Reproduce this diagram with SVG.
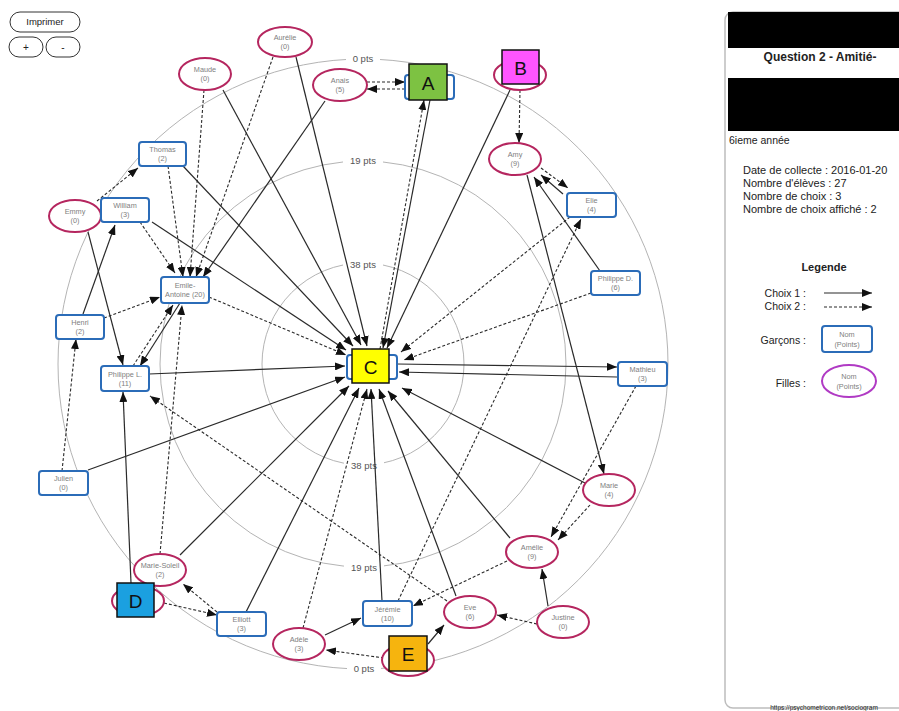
<svg xmlns="http://www.w3.org/2000/svg" width="899" height="711" viewBox="0 0 899 711">
<style>
.ring{fill:none;stroke:#b4b4b4;stroke-width:1}
.rl{font-family:"Liberation Sans",Arial,sans-serif;font-size:9.5px;fill:#555;text-anchor:middle;dominant-baseline:central}
.b{fill:#fff;stroke:#2b6cb8;stroke-width:2}
.g{fill:#fff;stroke:#b5265f;stroke-width:2}
.t{font-family:"Liberation Sans",Arial,sans-serif;font-size:7.3px;fill:#808080;text-anchor:middle;dominant-baseline:central}
.s{fill:none;stroke:#2a2a2a;stroke-width:1.2;marker-end:url(#ah)}
.d{fill:none;stroke:#2a2a2a;stroke-width:1.1;stroke-dasharray:3 2;marker-end:url(#ah)}
.sq{stroke:#111;stroke-width:1.5}
.L{font-family:"Liberation Sans",Arial,sans-serif;font-size:19px;fill:#111;text-anchor:middle;dominant-baseline:central}
.p{font-family:"Liberation Sans",Arial,sans-serif;fill:#222}
.btn{fill:#fff;stroke:#333;stroke-width:1}
</style>
<defs>
<marker id="ah" markerUnits="userSpaceOnUse" markerWidth="10" markerHeight="8" refX="10" refY="4" orient="auto">
<path d="M0,0 L10,4 L0,8 z" fill="#111"/>
</marker>
</defs>
<rect width="899" height="711" fill="#fff"/>

<g id="buttons">
<rect class="btn" x="10" y="12" width="70" height="20" rx="10"/>
<text class="p" x="45" y="25" font-size="9.5" text-anchor="middle">Imprimer</text>
<rect class="btn" x="9" y="37" width="34" height="20" rx="10"/>
<text class="p" x="26" y="50.5" font-size="10" text-anchor="middle">+</text>
<rect class="btn" x="46" y="37" width="34" height="20" rx="10"/>
<text class="p" x="63" y="50.5" font-size="10" text-anchor="middle">-</text>
</g>

<g id="rings">
<circle class="ring" cx="363" cy="364" r="305"/>
<circle class="ring" cx="363" cy="364" r="203"/>
<circle class="ring" cx="363" cy="364" r="101"/>
<rect x="346" y="51" width="34" height="13" fill="#fff"/>
<text class="rl" x="363" y="58">0 pts</text>
<rect x="343" y="154" width="40" height="13" fill="#fff"/>
<text class="rl" x="363" y="160">19 pts</text>
<rect x="343" y="258" width="40" height="13" fill="#fff"/>
<text class="rl" x="363" y="264">38 pts</text>
<rect x="344" y="459" width="40" height="13" fill="#fff"/>
<text class="rl" x="364" y="465">38 pts</text>
<rect x="344" y="561" width="40" height="13" fill="#fff"/>
<text class="rl" x="364" y="567">19 pts</text>
<rect x="347" y="662" width="34" height="13" fill="#fff"/>
<text class="rl" x="364" y="668">0 pts</text>
</g>

<g id="connectors">
<line class="s" x1="296" y1="57" x2="367" y2="346"/>
<line class="s" x1="223" y1="90" x2="361" y2="345"/>
<line class="s" x1="183" y1="166" x2="353" y2="346"/>
<line class="s" x1="152" y1="222" x2="346" y2="350"/>
<line class="s" x1="88" y1="232" x2="123" y2="365"/>
<line class="s" x1="83" y1="314" x2="115" y2="225"/>
<line class="s" x1="88" y1="470" x2="345" y2="377"/>
<line class="s" x1="149" y1="374" x2="345" y2="366"/>
<line class="s" x1="180" y1="303" x2="140" y2="366"/>
<line class="s" x1="180" y1="555" x2="349" y2="386"/>
<line class="s" x1="131" y1="583" x2="123" y2="392"/>
<line class="s" x1="246" y1="612" x2="359" y2="388"/>
<line class="s" x1="325" y1="635" x2="361" y2="618"/>
<line class="s" x1="428" y1="644" x2="444" y2="625"/>
<line class="s" x1="382" y1="601" x2="371" y2="389"/>
<line class="s" x1="456" y1="596" x2="379" y2="389"/>
<line class="s" x1="548" y1="606" x2="542" y2="569"/>
<line class="s" x1="510" y1="538" x2="388" y2="391"/>
<line class="s" x1="585" y1="483" x2="402" y2="388"/>
<line class="s" x1="617" y1="377" x2="399" y2="372"/>
<line class="s" x1="397" y1="364" x2="617" y2="367"/>
<line class="s" x1="600" y1="271" x2="534" y2="177"/>
<line class="s" x1="563" y1="194" x2="541" y2="175"/>
<line class="s" x1="527" y1="175" x2="604" y2="474"/>
<line class="s" x1="510" y1="90" x2="387" y2="348"/>
<line class="s" x1="430" y1="100" x2="383" y2="348"/>
<line class="s" x1="325" y1="101" x2="203" y2="277"/>

<line class="d" x1="273" y1="57" x2="196" y2="277"/>
<line class="d" x1="204" y1="90" x2="190" y2="277"/>
<line class="d" x1="168" y1="166" x2="183" y2="277"/>
<line class="d" x1="140" y1="222" x2="175" y2="273"/>
<line class="d" x1="97" y1="201" x2="138" y2="168"/>
<line class="d" x1="104" y1="318" x2="160" y2="297"/>
<line class="d" x1="62" y1="471" x2="76" y2="339"/>
<line class="d" x1="133" y1="366" x2="173" y2="305"/>
<line class="d" x1="209" y1="297" x2="346" y2="355"/>
<line class="d" x1="160" y1="554" x2="182" y2="305"/>
<line class="d" x1="164" y1="603" x2="217" y2="615"/>
<line class="d" x1="217" y1="612" x2="183" y2="584"/>
<line class="d" x1="303" y1="628" x2="367" y2="389"/>
<line class="d" x1="384" y1="658" x2="326" y2="650"/>
<line class="d" x1="398" y1="601" x2="581" y2="219"/>
<line class="d" x1="447" y1="601" x2="150" y2="396"/>
<line class="d" x1="537" y1="624" x2="497" y2="615"/>
<line class="d" x1="507" y1="561" x2="413" y2="606"/>
<line class="d" x1="590" y1="505" x2="558" y2="540"/>
<line class="d" x1="636" y1="386" x2="551" y2="537"/>
<line class="d" x1="591" y1="293" x2="404" y2="360"/>
<line class="d" x1="570" y1="217" x2="401" y2="352"/>
<line class="d" x1="541" y1="168" x2="568" y2="188"/>
<line class="d" x1="520" y1="90" x2="519" y2="143"/>
<line class="d" x1="405" y1="89" x2="367" y2="89"/>
<line class="d" x1="367" y1="82" x2="405" y2="82"/>
<line class="d" x1="380" y1="349" x2="424" y2="100"/>
</g>

<g id="n-aurelie"><ellipse class="g" cx="285" cy="42" rx="27" ry="15"/><text class="t" x="285" y="37.5">Aurélie</text><text class="t" x="285" y="46.5">(0)</text></g>
<g id="n-maude"><ellipse class="g" cx="205" cy="74" rx="26" ry="16"/><text class="t" x="205" y="69.5">Maude</text><text class="t" x="205" y="78.5">(0)</text></g>
<g id="n-anais"><ellipse class="g" cx="340" cy="85" rx="27" ry="16"/><text class="t" x="340" y="80.5">Anais</text><text class="t" x="340" y="89.5">(5)</text></g>
<g id="n-a"><rect class="b" x="405" y="75" width="49" height="24" rx="3"/><rect class="sq" x="409" y="64" width="38" height="36" fill="#7dc242"/><text class="L" x="428" y="83">A</text></g>
<g id="n-b"><ellipse class="g" cx="520" cy="75" rx="26" ry="15"/><rect class="sq" x="502" y="50" width="37" height="34" fill="#ff55ff"/><text class="L" x="520.5" y="68">B</text></g>
<g id="n-amy"><ellipse class="g" cx="515" cy="159" rx="26" ry="16"/><text class="t" x="515" y="154.5">Amy</text><text class="t" x="515" y="163.5">(9)</text></g>
<g id="n-thomas"><rect class="b" x="139" y="142" width="47" height="24" rx="3"/><text class="t" x="162.5" y="149.5">Thomas</text><text class="t" x="162.5" y="158.5">(2)</text></g>
<g id="n-emmy"><ellipse class="g" cx="75" cy="216" rx="26" ry="16"/><text class="t" x="75" y="211.5">Emmy</text><text class="t" x="75" y="220.5">(0)</text></g>
<g id="n-william"><rect class="b" x="101" y="198" width="48" height="24" rx="3"/><text class="t" x="125" y="205.5">William</text><text class="t" x="125" y="214.5">(3)</text></g>
<g id="n-elie"><rect class="b" x="567" y="193" width="49" height="24" rx="3"/><text class="t" x="591.5" y="200.5">Elie</text><text class="t" x="591.5" y="209.5">(4)</text></g>
<g id="n-emile"><rect class="b" x="161" y="277" width="48" height="26" rx="3"/><text class="t" x="185" y="285">Emile-</text><text class="t" x="185" y="294.5">Antoine (20)</text></g>
<g id="n-philipped"><rect class="b" x="591" y="271" width="49" height="24" rx="3"/><text class="t" x="615.5" y="278.5">Philippe D.</text><text class="t" x="615.5" y="287.5">(6)</text></g>
<g id="n-henri"><rect class="b" x="56" y="315" width="48" height="24" rx="3"/><text class="t" x="80" y="322.5">Henri</text><text class="t" x="80" y="331.5">(2)</text></g>
<g id="n-philippel"><rect class="b" x="101" y="366" width="48" height="25" rx="3"/><text class="t" x="125" y="374">Philippe L.</text><text class="t" x="125" y="383">(11)</text></g>
<g id="n-c"><rect class="b" x="347" y="355" width="50" height="24" rx="3"/><rect class="sq" x="352" y="349" width="37" height="34" fill="#ffff00"/><text class="L" x="370.5" y="367">C</text></g>
<g id="n-mathieu"><rect class="b" x="618" y="362" width="49" height="24" rx="3"/><text class="t" x="642.5" y="369.5">Mathieu</text><text class="t" x="642.5" y="378.5">(3)</text></g>
<g id="n-julien"><rect class="b" x="39" y="471" width="49" height="24" rx="3"/><text class="t" x="63.5" y="478.5">Julien</text><text class="t" x="63.5" y="487.5">(0)</text></g>
<g id="n-marie"><ellipse class="g" cx="609" cy="490" rx="26" ry="16"/><text class="t" x="609" y="485.5">Marie</text><text class="t" x="609" y="494.5">(4)</text></g>
<g id="n-amelie"><ellipse class="g" cx="532" cy="552" rx="26" ry="16"/><text class="t" x="532" y="547.5">Amélie</text><text class="t" x="532" y="556.5">(9)</text></g>
<g id="n-mariesoleil"><ellipse class="g" cx="160" cy="570" rx="26" ry="16"/><text class="t" x="160" y="565.5">Marie-Soleil</text><text class="t" x="160" y="574.5">(2)</text></g>
<g id="n-d"><ellipse class="g" cx="138" cy="601" rx="26" ry="15"/><rect class="sq" x="117" y="583" width="37" height="34" fill="#1ba0e0"/><text class="L" x="135.5" y="601">D</text></g>
<g id="n-elliott"><rect class="b" x="217" y="612" width="49" height="24" rx="3"/><text class="t" x="241.5" y="619.5">Elliott</text><text class="t" x="241.5" y="628.5">(3)</text></g>
<g id="n-jeremie"><rect class="b" x="363" y="601" width="49" height="25" rx="3"/><text class="t" x="387.5" y="609">Jérémie</text><text class="t" x="387.5" y="618">(10)</text></g>
<g id="n-eve"><ellipse class="g" cx="470" cy="612" rx="26" ry="16"/><text class="t" x="470" y="607.5">Eve</text><text class="t" x="470" y="616.5">(6)</text></g>
<g id="n-justine"><ellipse class="g" cx="563" cy="622" rx="26" ry="16"/><text class="t" x="563" y="617.5">Justine</text><text class="t" x="563" y="626.5">(0)</text></g>
<g id="n-adele"><ellipse class="g" cx="299" cy="644" rx="26" ry="16"/><text class="t" x="299" y="639.5">Adèle</text><text class="t" x="299" y="648.5">(3)</text></g>
<g id="n-e"><ellipse class="g" cx="408" cy="660" rx="26" ry="16"/><rect class="sq" x="389" y="636" width="38" height="35" fill="#f6b40e"/><text class="L" x="408" y="654">E</text></g>

<g id="panel">
<rect x="725" y="12" width="200" height="696" rx="8" fill="none" stroke="#bdbdbd" stroke-width="1.5"/>
<rect x="728" y="12" width="171" height="36" fill="#000"/>
<text class="p" x="820" y="61" font-size="12" font-weight="bold" text-anchor="middle">Question 2 - Amitié-</text>
<rect x="728" y="78" width="171" height="53" fill="#000"/>
<text class="p" x="729" y="144" font-size="10.5">6ieme année</text>
<text class="p" x="743" y="174" font-size="11">Date de collecte : 2016-01-20</text>
<text class="p" x="743" y="187" font-size="11">Nombre d'élèves : 27</text>
<text class="p" x="743" y="200" font-size="11">Nombre de choix : 3</text>
<text class="p" x="743" y="213" font-size="11">Nombre de choix affiché : 2</text>
<text class="p" x="824" y="271" font-size="11" font-weight="bold" text-anchor="middle">Legende</text>
<text class="p" x="806" y="297" font-size="10.5" text-anchor="end">Choix 1 :</text>
<line class="s" x1="824" y1="293" x2="872" y2="293"/>
<text class="p" x="806" y="310" font-size="10.5" text-anchor="end">Choix 2 :</text>
<line class="d" x1="824" y1="307" x2="872" y2="307"/>
<text class="p" x="806" y="344" font-size="10.5" text-anchor="end">Garçons :</text>
<rect class="b" x="822" y="326" width="50" height="26" rx="3"/>
<text class="t" x="847" y="334" font-size="9">Nom</text>
<text class="t" x="847" y="344.5" font-size="9">(Points)</text>
<text class="p" x="806" y="387" font-size="10.5" text-anchor="end">Filles :</text>
<ellipse cx="849" cy="381" rx="27" ry="16" fill="#fff" stroke="#b03ac4" stroke-width="2"/>
<text class="t" x="849" y="376" font-size="9">Nom</text>
<text class="t" x="849" y="386.5" font-size="9">(Points)</text>
<text class="p" x="824" y="710" font-size="6.5" fill="#777" text-anchor="middle">https://psychometricon.net/sociogram</text>
</g>
</svg>
